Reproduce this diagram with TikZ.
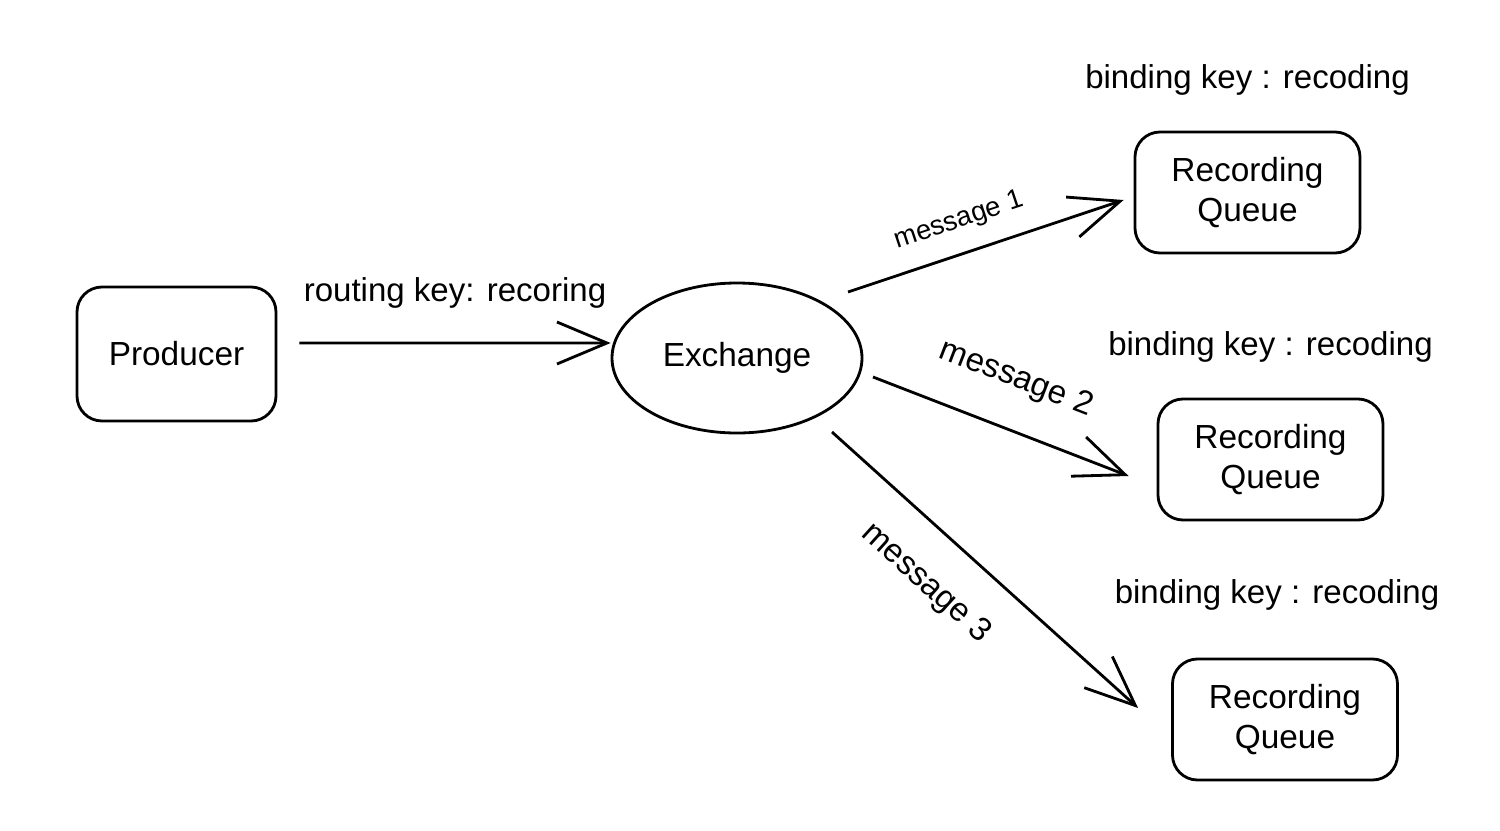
\documentclass[tikz,border=0pt]{standalone}
\usepackage{fontspec}
\setmainfont{Liberation Sans}
\usetikzlibrary{arrows.meta,positioning,shapes.geometric}

\begin{document}
\begin{tikzpicture}[>={Straight Barb[length=0.5cm,width=0.42cm]}, line width=0.8pt]
        \tikzset{box/.style={rectangle, draw, rounded corners=0.25cm, align=center, minimum width=2.25cm, minimum height=1.21cm, font=\fontsize{9.5}{11.5}\selectfont},
                 tag/.style={inner sep=1pt, font=\fontsize{9.4}{11}\selectfont}}
        \useasboundingbox (0,0) rectangle (15,8.3);
        \node[box, minimum width=1.99cm, minimum height=1.34cm] (producer) at (1.765,4.76) {Producer};
        \node[ellipse, draw, minimum width=2.5cm, minimum height=1.5cm, inner sep=0pt, font=\fontsize{9.5}{11.5}\selectfont] (exchange) at (7.37,4.72) {Exchange};
        \node[box] (queue1) at (12.475,6.375) {Recording\\Queue};
        \node[box] (queue2) at (12.705,3.705) {Recording\\Queue};
        \node[box] (queue3) at (12.85,1.105) {Recording\\Queue};
        \node[tag, above=0.3cm of queue1] (bind1) {binding key : recoding};
        \node[tag, above=0.3cm of queue2] (bind2) {binding key : recoding};
        \node[tag, above=0.42cm of queue3, xshift=-0.08cm] (bind3) {binding key : recoding};
        \draw[->] ([xshift=0.22cm,yshift=0.11cm]producer.east) -- node[tag, above=0.3cm]{routing key: recoring} ([yshift=0.15cm]exchange.west);
        \draw[->] ([shift={(1.11,0.66)}]exchange.center) -- node[tag, pos=0.44, sloped, above=0.15cm, font=\fontsize{7.8}{9}\selectfont]{message 1} ([shift={(-0.10,-0.075)}]queue1.west);
        \draw[->] ([shift={(1.36,-0.19)}]exchange.center) -- node[tag, pos=0.49, sloped, above=0.3cm]{message 2} ([shift={(-0.28,-0.165)}]queue2.west);
        \draw[->] ([shift={(0.95,-0.74)}]exchange.center) -- node[tag, pos=0.415, sloped, below=0.3cm]{message 3} ([shift={(-0.33,0.115)}]queue3.west);
\end{tikzpicture}
\end{document}
